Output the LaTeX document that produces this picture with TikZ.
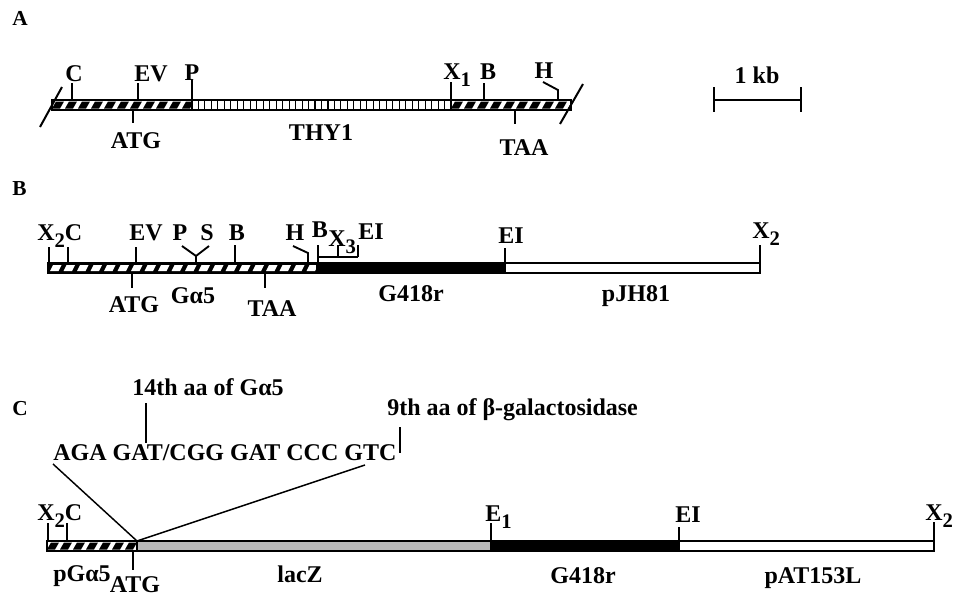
\documentclass[tikz,border=0pt]{standalone}
\usepackage{fontspec}
\setmainfont{Liberation Serif}
\newcommand{\lsub}[1]{\raisebox{-5.5pt}{\fontsize{15.5}{16}\selectfont #1}}
\newcommand{\hatchW}[3]{% black dashes on white: x0, x1, ytop
  \begin{scope}
    \clip (#1,#3) rectangle (#2,#3+10);
    \fill[white] (#1,#3) rectangle (#2,#3+10);
    \foreach \i in {-1,...,24} \fill ({#1+\i*13},#3+8.5) -- ++(8,0) -- ++(4,-7) -- ++(-8,0) -- cycle;
  \end{scope}}
\newcommand{\hatchB}[3]{% white dashes on black: x0, x1, ytop
  \begin{scope}
    \clip (#1,#3) rectangle (#2,#3+10);
    \fill[black] (#1,#3) rectangle (#2,#3+10);
    \foreach \i in {-1,...,24} \fill[white] ({#1+2+\i*13.5},#3+8) -- ++(8.5,0) -- ++(3,-6) -- ++(-8.5,0) -- cycle;
  \end{scope}}
\begin{document}
\begin{tikzpicture}[x=0.75pt,y=-0.75pt,
  lbl/.style={inner sep=0pt, font=\fontsize{18}{20}\selectfont\bfseries},
  plbl/.style={inner sep=0pt, font=\fontsize{16}{18}\selectfont\bfseries},
  tk/.style={line width=1.4pt},
  barline/.style={line width=1.5pt},
  fan/.style={line width=1.1pt}]
\useasboundingbox (0,0) rectangle (964,596);

%%%%%%%%%%%%%%%% Panel A
\node[plbl, anchor=base west] (lA) at (12,25) {A};
\hatchW{52}{192}{100}
\hatchW{451}{571}{100}
\foreach \i in {1,...,39} \draw[line width=0.8pt] ({192+\i*6.475},100) -- ++(0,10);
\draw[barline] (52,100) rectangle (571,110);
\draw[barline] (192,100) -- (192,110) (451,100) -- (451,110);
\draw[line width=1.5pt] (40,127) -- (62,87);
\draw[line width=1.5pt] (560,124) -- (583,84);
% ticks
\draw[tk] (72,100) -- (72,83);
\draw[tk] (138,100) -- (138,83);
\draw[tk] (192,100) -- (192,80);
\draw[tk] (451,100) -- (451,82);
\draw[tk] (484,100) -- (484,83);
\draw[tk] (543,82) -- (558,90) -- (558,100);
\draw[tk] (133,110) -- (133,123);
\draw[tk] (515,110) -- (515,124);
% labels
\node[lbl, anchor=base] (aC) at (74,81) {C};
\node[lbl, anchor=base] (aEV) at (151,81) {EV};
\node[lbl, anchor=base] (aP) at (192,80) {P};
\node[lbl, anchor=base west] (aX) at (443,79) {X\lsub{1}};
\node[lbl, anchor=base] (aB) at (488,79) {B};
\node[lbl, anchor=base] (aH) at (544,78) {H};
\node[lbl, anchor=base] (aATG) at (136,148) {ATG};
\node[lbl, anchor=base] (aTHY) at (321,140) {THY1};
\node[lbl, anchor=base] (aTAA) at (524,155) {TAA};
% scale bar
\draw[tk] (714,87) -- (714,112);
\draw[tk] (801,87) -- (801,112);
\draw[tk] (714,100) -- (801,100);
\node[lbl, anchor=base] (kb) at (757,83) {1 kb};

%%%%%%%%%%%%%%%% Panel B
\node[plbl, anchor=base west] (lB) at (12,195) {B};
\hatchB{48}{317}{263}
\fill[black] (317,263) rectangle (505,273);
\fill[white] (505,263) rectangle (760,273);
\draw[barline] (48,263) rectangle (760,273);
\draw[barline] (317,263) -- (317,273) (505,263) -- (505,273);
% ticks above
\draw[tk] (49,263) -- (49,247);
\draw[tk] (68,263) -- (68,247);
\draw[tk] (136,263) -- (136,247);
\draw[tk] (182,246) -- (196,256) -- (209,246);
\draw[tk] (196,256) -- (196,263);
\draw[tk] (235,263) -- (235,245);
\draw[tk] (293,246) -- (308,253) -- (308,263);
\draw[tk] (318,263) -- (318,245);
\draw[tk] (318,257) -- (358,257);
\draw[tk] (338,257) -- (338,245);
\draw[tk] (358,257) -- (358,245);
\draw[tk] (505,263) -- (505,248);
\draw[tk] (760,263) -- (760,245);
% ticks below
\draw[tk] (132,273) -- (132,288);
\draw[tk] (265,273) -- (265,288);
% labels
\node[lbl, anchor=base west] (bX2C) at (37,240) {X\lsub{2}C};
\node[lbl, anchor=base] (bEV) at (146,240) {EV};
\node[lbl, anchor=base] (bP) at (180,240) {P};
\node[lbl, anchor=base] (bS) at (207,240) {S};
\node[lbl, anchor=base] (bB) at (237,240) {B};
\node[lbl, anchor=base] (bH) at (295,240) {H};
\node[lbl, anchor=base] (bB2) at (320,237) {B};
\node[lbl, anchor=base west] (bX3) at (328,246) {X\lsub{3}};
\node[lbl, anchor=base west] (bEI) at (358,239) {EI};
\node[lbl, anchor=base] (bEI2) at (511,243) {EI};
\node[lbl, anchor=base west] (bX2) at (752,238) {X\lsub{2}};
\node[lbl, anchor=base] (bATG) at (134,312) {ATG};
\node[lbl, anchor=base] (bGa) at (193,303) {Gα5};
\node[lbl, anchor=base] (bTAA) at (272,316) {TAA};
\node[lbl, anchor=base] (bG418) at (411,301) {G418r};
\node[lbl, anchor=base] (bpJH) at (636,301) {pJH81};

%%%%%%%%%%%%%%%% Panel C
\node[plbl, anchor=base west] (lC) at (12,415) {C};
\node[lbl, anchor=base] (c14) at (208,395) {14th aa of Gα5};
\node[lbl, anchor=base west] (cseq) at (53,460) {AGA GAT/CGG GAT CCC GTC};
\node[lbl, anchor=base west] (c9) at (387,415) {9th aa of β-galactosidase};
\draw[tk] (146,403) -- (146,443);
\draw[tk] (400,427) -- (400,453);
\coordinate (fuse) at (137,541);
\draw[fan] (53,464) -- (fuse);
\draw[fan] (365,465) -- (fuse);
\hatchW{47}{137}{541}
\fill[black!27] (137,541) rectangle (491,551);
\fill[black] (491,541) rectangle (679,551);
\fill[white] (679,541) rectangle (934,551);
\draw[barline] (47,541) rectangle (934,551);
\draw[barline] (137,541) -- (137,551) (491,541) -- (491,551) (679,541) -- (679,551);
% ticks
\draw[tk] (48,541) -- (48,523);
\draw[tk] (67,541) -- (67,523);
\draw[tk] (133,551) -- (133,570);
\draw[tk] (491,541) -- (491,523);
\draw[tk] (679,541) -- (679,527);
\draw[tk] (934,541) -- (934,522);
% labels
\node[lbl, anchor=base west] (cX2C) at (37,520) {X\lsub{2}C};
\node[lbl, anchor=base west] (cE1) at (485,521) {E\lsub{1}};
\node[lbl, anchor=base west] (cEI) at (675,522) {EI};
\node[lbl, anchor=base west] (cX2) at (925,520) {X\lsub{2}};
\node[lbl, anchor=base] (cpGa) at (82,581) {pGα5};
\node[lbl, anchor=base] (cATG) at (135,592) {ATG};
\node[lbl, anchor=base] (clac) at (300,582) {lacZ};
\node[lbl, anchor=base] (cG418) at (583,583) {G418r};
\node[lbl, anchor=base] (cpAT) at (813,583) {pAT153L};
\end{tikzpicture}
\end{document}
